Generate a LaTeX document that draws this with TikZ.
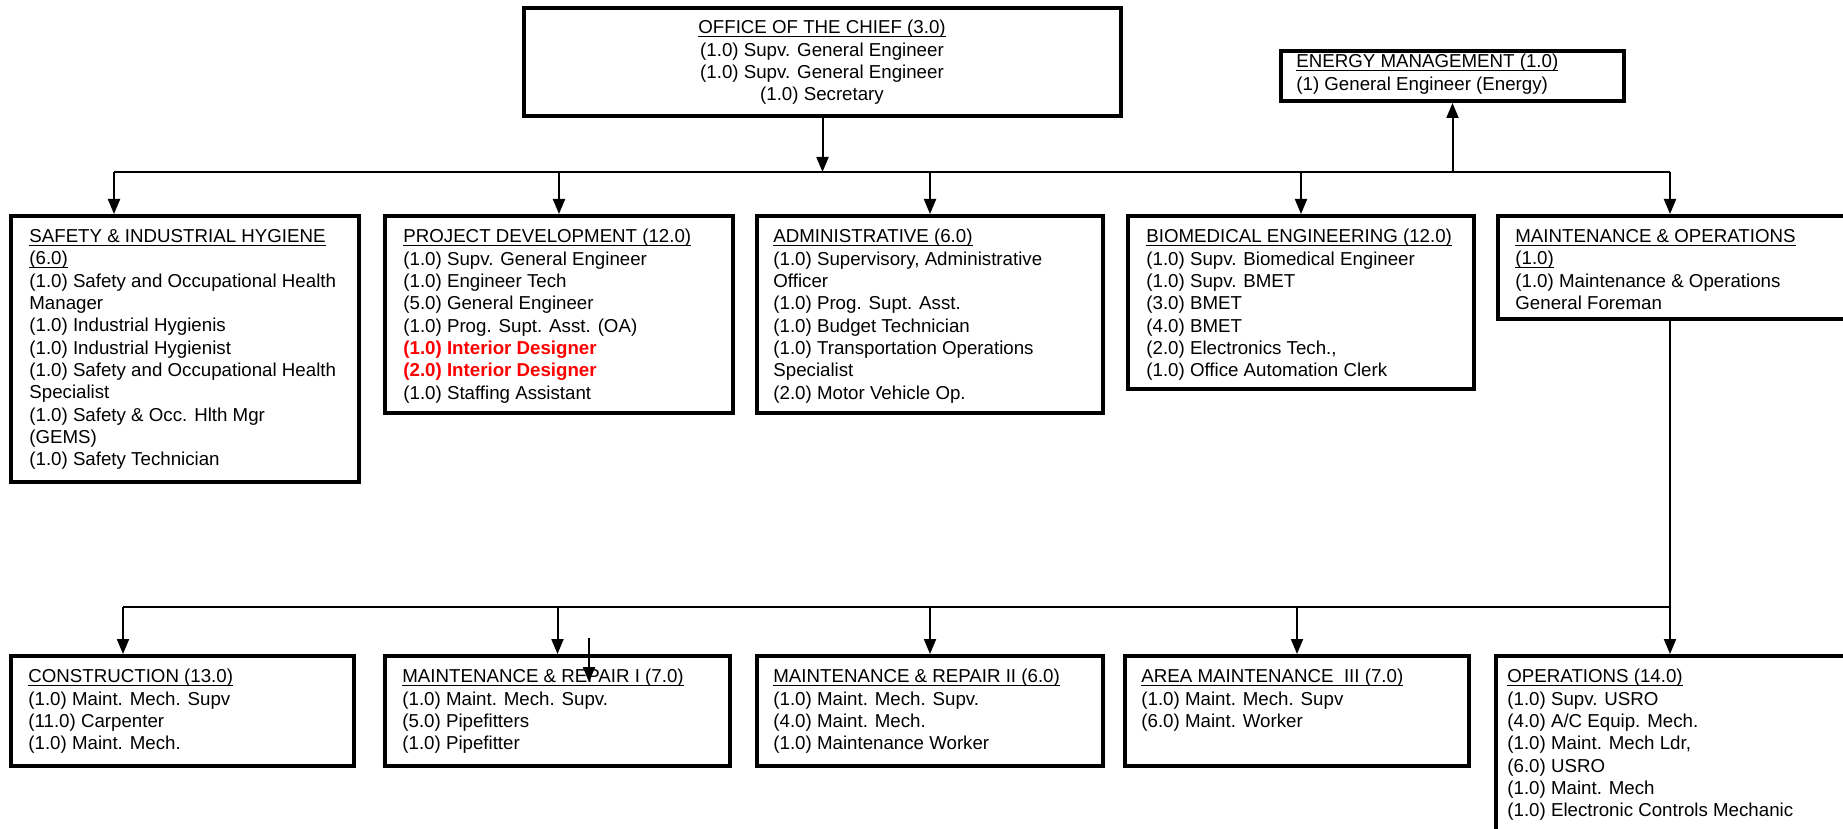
\documentclass[tikz,border=0pt]{standalone}
\usepackage{fontspec}
\setmainfont{Liberation Sans}
\usetikzlibrary{arrows.meta,fit}

\newcommand\ttl[1]{\underline{\raisebox{0pt}[\height][0pt]{#1}}}

\tikzset{
  unit/.style={draw, line width=2pt, inner sep=-1pt},
  staff/.style={anchor=north west, align=left, inner sep=0pt, font=\fontsize{9.35}{11.17}\selectfont},
  link/.style={line width=1pt},
  down/.style={link, -{Triangle[width=6pt,length=7.5pt]}},
}

\begin{document}
\begin{tikzpicture}[x=0.5pt,y=-0.5pt]
        \useasboundingbox (0,0) rectangle (1843,829);
        \clip (0,0) rectangle (1843,829);

        % chief and energy
        \node[unit, fit={(522,6) (1123,118)}] (chief) {};
        \node[staff, anchor=north, align=center] (chief-t) at (822,20) {\ttl{OFFICE OF THE CHIEF (3.0)}\\ (1.0) Supv. General Engineer\\ (1.0) Supv. General Engineer\\ (1.0) Secretary};
        \node[unit, fit={(1279,49) (1626,103)}] (energy) {};
        \node[staff] (energy-t) at (1296,54) {\ttl{ENERGY MANAGEMENT (1.0)}\\ (1) General Engineer (Energy)};

        % first row
        \node[unit, fit={(9,214) (361,484)}] (safety) {};
        \node[staff] (safety-t) at (29,229) {\ttl{SAFETY \& INDUSTRIAL HYGIENE}\\ \ttl{(6.0)}\\ (1.0) Safety and Occupational Health\\ Manager\\ (1.0) Industrial Hygienis\\ (1.0) Industrial Hygienist\\ (1.0) Safety and Occupational Health\\ Specialist\\ (1.0) Safety \& Occ. Hlth Mgr\\ (GEMS)\\ (1.0) Safety Technician};
        \node[unit, fit={(383,214) (735,415)}] (project) {};
        \node[staff] (project-t) at (403,229) {\ttl{PROJECT DEVELOPMENT (12.0)}\\ (1.0) Supv. General Engineer\\ (1.0) Engineer Tech\\ (5.0) General Engineer\\ (1.0) Prog. Supt. Asst. (OA)\\ \textcolor{red}{\bfseries (1.0) Interior Designer}\\ \textcolor{red}{\bfseries (2.0) Interior Designer}\\ (1.0) Staffing Assistant};
        \node[unit, fit={(755,214) (1105,415)}] (admin) {};
        \node[staff] (admin-t) at (773,229) {\ttl{ADMINISTRATIVE (6.0)}\\ (1.0) Supervisory, Administrative\\ Officer\\ (1.0) Prog. Supt. Asst.\\ (1.0) Budget Technician\\ (1.0) Transportation Operations\\ Specialist\\ (2.0) Motor Vehicle Op.};
        \node[unit, fit={(1126,214) (1476,391)}] (biomed) {};
        \node[staff] (biomed-t) at (1146,229) {\ttl{BIOMEDICAL ENGINEERING (12.0)}\\ (1.0) Supv. Biomedical Engineer\\ (1.0) Supv. BMET\\ (3.0) BMET\\ (4.0) BMET\\ (2.0) Electronics Tech.,\\ (1.0) Office Automation Clerk};
        \node[unit, fit={(1496,214) (1852,321)}] (mo) {};
        \node[staff] (mo-t) at (1515,229) {\ttl{MAINTENANCE \& OPERATIONS}\\ \ttl{(1.0)}\\ (1.0) Maintenance \& Operations\\ General Foreman};

        % second row
        \node[unit, fit={(9,654) (356,768)}] (constr) {};
        \node[staff] (constr-t) at (28,669) {\ttl{CONSTRUCTION (13.0)}\\ (1.0) Maint. Mech. Supv\\ (11.0) Carpenter\\ (1.0) Maint. Mech.};
        \node[unit, fit={(383,654) (732,768)}] (repone) {};
        \node[staff] (repone-t) at (402,669) {\ttl{MAINTENANCE \& REPAIR I (7.0)}\\ (1.0) Maint. Mech. Supv.\\ (5.0) Pipefitters\\ (1.0) Pipefitter};
        \node[unit, fit={(755,654) (1105,768)}] (reptwo) {};
        \node[staff] (reptwo-t) at (773,669) {\ttl{MAINTENANCE \& REPAIR II (6.0)}\\ (1.0) Maint. Mech. Supv.\\ (4.0) Maint. Mech.\\ (1.0) Maintenance Worker};
        \node[unit, fit={(1123,654) (1471,768)}] (area) {};
        \node[staff] (area-t) at (1141,669) {\ttl{AREA MAINTENANCE\ \ III (7.0)}\\ (1.0) Maint. Mech. Supv\\ (6.0) Maint. Worker};
        \node[unit, fit={(1494,654) (1852,880)}] (ops) {};
        \node[staff] (ops-t) at (1507,669) {\ttl{OPERATIONS (14.0)}\\ (1.0) Supv. USRO\\ (4.0) A/C Equip. Mech.\\ (1.0) Maint. Mech Ldr,\\ (6.0) USRO\\ (1.0) Maint. Mech\\ (1.0) Electronic Controls Mechanic};

        % first bus
        \coordinate (busa-l) at (114,172);
        \coordinate (busa-r) at (1670,172);
        \draw[link] (busa-l) -- (busa-r);
        \draw[down] (chief.south) -- (chief.south |- busa-l);
        \draw[down] (energy.south |- busa-l) -- (energy.south);
        \draw[down] (busa-l) -- (busa-l |- safety.north);
        \draw[down] (project.north |- busa-l) -- (project.north);
        \draw[down] (admin.north |- busa-l) -- (admin.north);
        \draw[down] (biomed.north |- busa-l) -- (biomed.north);
        \draw[down] (busa-r) -- (busa-r |- mo.north);

        % second bus
        \coordinate (busb-l) at (123,607);
        \coordinate (busb-r) at (1670,607);
        \draw[link] (busb-l) -- (busb-r);
        \draw[down] (busa-r |- mo.south) -- (busa-r |- ops.north);
        \draw[down] (busb-l) -- (busb-l |- constr.north);
        \draw[down] (repone.north |- busb-l) -- (repone.north);
        \draw[down] (reptwo.north |- busb-l) -- (reptwo.north);
        \draw[down] (area.north |- busb-l) -- (area.north);
        \coordinate (stray) at (589,638);
        \draw[down] (stray) -- ++(0,44);
\end{tikzpicture}
\end{document}
